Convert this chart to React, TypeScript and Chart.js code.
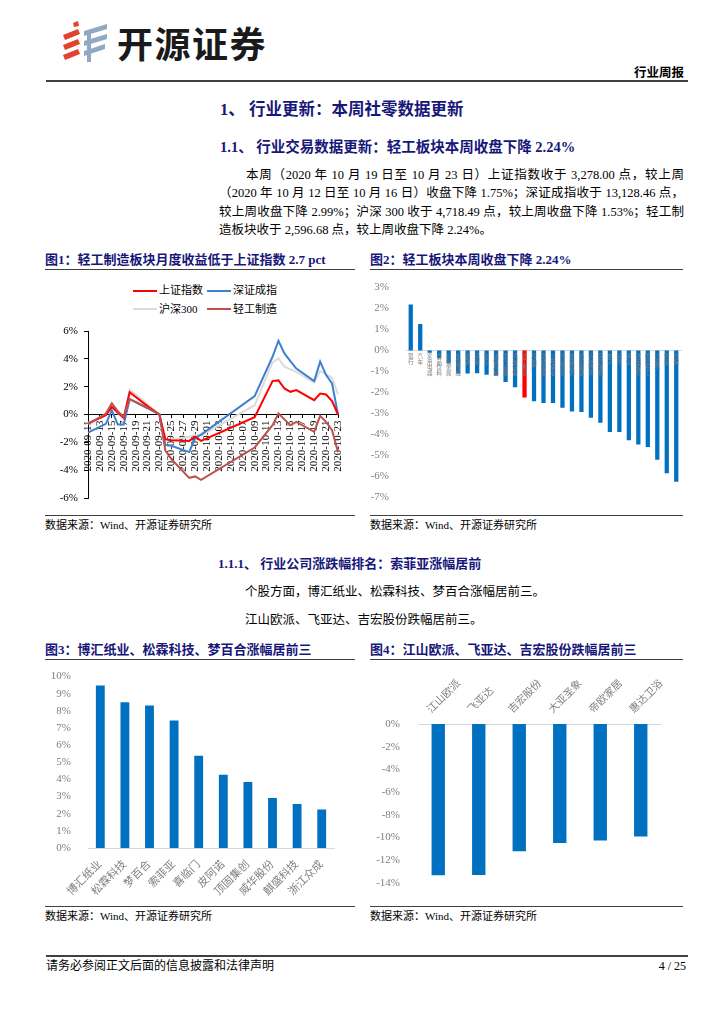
import React, { useEffect, useRef } from 'react';
import { Chart, registerables } from 'chart.js';

Chart.register(...registerables);

const SERIF = "'Liberation Serif', 'Noto Sans CJK SC', serif";
Chart.defaults.font.family = SERIF;

// ---------- Chart 1 data ----------
const dates = [
  '2020-09-11', '2020-09-12', '2020-09-13', '2020-09-14', '2020-09-15', '2020-09-16', '2020-09-17',
  '2020-09-18', '2020-09-19', '2020-09-20', '2020-09-21', '2020-09-22', '2020-09-23', '2020-09-24',
  '2020-09-25', '2020-09-26', '2020-09-27', '2020-09-28', '2020-09-29', '2020-09-30', '2020-10-01',
  '2020-10-02', '2020-10-03', '2020-10-04', '2020-10-05', '2020-10-06', '2020-10-07', '2020-10-08',
  '2020-10-09', '2020-10-10', '2020-10-11', '2020-10-12', '2020-10-13', '2020-10-14', '2020-10-15',
  '2020-10-16', '2020-10-17', '2020-10-18', '2020-10-19', '2020-10-20', '2020-10-21', '2020-10-22',
  '2020-10-23',
];
const n = null;
const shIndex = [-0.65, n, n, -0.05, 0.55, 0.15, -0.25, 1.6, n, n, 0.6, 0.3, 0, -1.77, -1.85, n, n, -1.9, -1.6, -1.9,
  n, n, n, n, n, n, n, n, -0.2, n, n, 2.4, 2.45, 1.87, 1.63, 1.75, n, n, 1.03, 1.5, 1.44, 0.96, 0];
const szIndex = [-1.3, n, n, -0.67, 0.31, -0.72, -0.72, 1.1, n, n, 0.45, 0.22, 0, -2.2, -2.25, n, n, -2.7, -1.7, -1.45,
  n, n, n, n, n, n, n, n, 1.32, n, n, 4.15, 5.3, 4.39, 3.84, 3.3, n, n, 2.4, 3.8, 2.83, 2.23, 0];
const hs300 = [-0.6, n, n, 0, 0.5, 0.1, -0.2, 1.8, n, n, 0.75, 0.35, 0, -1.9, -1.8, n, n, -1.6, -1.45, -1.5,
  n, n, n, n, n, n, n, n, 0.67, n, n, 3.74, 4.03, 3.43, 3.24, 3.07, n, n, 2.3, 3.12, 2.88, 2.64, 1.44];
const lightMfg = [-0.7, n, n, 0.07, 0.8, 0.24, -0.17, 1.1, n, n, 0.5, 0.25, 0, -2.6, -3.2, n, n, -4.55, -4.45, -4.7,
  n, n, n, n, n, n, n, n, -2.37, n, n, -0.77, 0.07, -0.35, -0.77, -0.53, n, n, -1.25, -0.1, -0.53, -1.13, -2.7];

// ---------- Chart 2 data ----------
const industries = ['银行', '汽车', '家用电器', '食品饮料', '有色金属', '非银金融', '钢铁', '采掘', '化工', '建筑材料',
  '电气设备', '机械设备', '轻工制造', '房地产', '交通运输', '公用事业', '商业贸易', '建筑装饰', '纺织服装', '农林牧渔',
  '医药生物', '电子', '综合', '通信', '休闲服务', '国防军工', '计算机', '传媒', '环保'];
const industryChange = [2.19, 1.26, -0.1, -0.37, -0.62, -1.1, -1.1, -1.08, -1.15, -1.2, -1.5, -1.75, -2.24, -2.42,
  -2.5, -2.5, -2.73, -2.9, -2.93, -3.2, -3.44, -3.88, -3.88, -4.28, -4.48, -4.6, -5.2, -5.85, -6.25];
const highlightIndustry = '轻工制造';

// ---------- Chart 3 data ----------
const gainers = ['博汇纸业', '松霖科技', '梦百合', '索菲亚', '喜临门', '皮阿诺', '顶固集创', '威华股份', '麒盛科技', '浙江众成'];
const gainerChange = [9.48, 8.5, 8.31, 7.44, 5.38, 4.27, 3.85, 2.92, 2.56, 2.25];

// ---------- Chart 4 data ----------
const losers = ['江山欧派', '飞亚达', '吉宏股份', '大亚圣象', '帝欧家居', '惠达卫浴'];
const loserChange = [-13.32, -13.3, -11.2, -10.47, -10.26, -9.91];

const NAVY = '#17177a';
const TICK_GRAY = '#808080';
const BAR_BLUE = '#0070c0';

function ChartBox({ left, top, width, height, makeConfig }: any) {
  const ref = useRef<HTMLCanvasElement>(null);
  useEffect(() => {
    const chart = new Chart(ref.current as HTMLCanvasElement, makeConfig());
    return () => chart.destroy();
  }, []);
  return (
    <canvas
      ref={ref}
      width={width}
      height={height}
      style={{ position: 'absolute', left, top, width, height }}
    />
  );
}

function Txt({ x, y, size, children, bold = false, color = '#000', w, justify = false, right = false, font = SERIF, ls }: any) {
  const h = Math.round(size * 1.5);
  const style: any = {
    position: 'absolute',
    top: y - h / 2,
    height: h,
    lineHeight: h + 'px',
    fontSize: size,
    fontWeight: bold ? 700 : 400,
    color,
    fontFamily: font,
  };
  if (right) {
    style.right = 724 - x;
    style.whiteSpace = 'nowrap';
  } else {
    style.left = x;
  }
  if (w) style.width = w;
  if (justify) {
    style.textAlign = 'justify';
    style.textAlignLast = 'justify';
  } else {
    style.whiteSpace = 'nowrap';
  }
  if (ls) style.letterSpacing = ls;
  return <div style={style}>{children}</div>;
}

function HLine({ x1, x2, y, t = 1.5, color = '#404040' }: any) {
  return <div style={{ position: 'absolute', left: x1, top: y - t / 2, width: x2 - x1, height: t, background: color }} />;
}

function Logo() {
  const red = '#e2432f';
  const blue = '#8ea9c1';
  return (
    <svg style={{ position: 'absolute', left: 60, top: 20 }} width={50} height={44} viewBox="0 0 50 44">
      <polygon points="13,3 18,1 19,6 14,7" fill={red} />
      <polygon points="3,15 18,9 20,14 5,20" fill={red} />
      <polygon points="3,25 18,19 20,24 5,30" fill={red} />
      <polygon points="3,35 18,29 20,34 5,40" fill={red} />
      <polygon points="24,11 47,4 47,9 24,16" fill={blue} />
      <polygon points="24,21 47,14 47,19 24,26" fill={blue} />
      <polygon points="24,31 45,24 45,29 24,36" fill={blue} />
      <rect x={27} y={11} width={4} height={31} fill={blue} />
    </svg>
  );
}

function config1() {
  return {
    type: 'line',
    data: {
      labels: dates,
      datasets: [
        { label: '轻工制造', data: lightMfg, borderColor: '#c0504d', borderWidth: 2 },
        { label: '上证指数', data: shIndex, borderColor: '#ff0000', borderWidth: 2 },
        { label: '深证成指', data: szIndex, borderColor: '#3d7fd0', borderWidth: 2 },
        { label: '沪深300', data: hs300, borderColor: '#dcdcdc', borderWidth: 2 },
      ],
    },
    options: {
      animation: false,
      responsive: false,
      spanGaps: true,
      elements: { point: { radius: 0 }, line: { tension: 0 } },
      layout: { padding: { left: 0, top: 59, right: 17, bottom: 14 } },
      plugins: { legend: { display: false }, tooltip: { enabled: false } },
      scales: {
        x: {
          position: { y: 0 },
          offset: false,
          grid: { display: true, drawOnChartArea: false, drawTicks: true, tickLength: 3, color: '#000' },
          border: { color: '#000', width: 1 },
          ticks: {
            autoSkip: false,
            maxRotation: 90,
            minRotation: 90,
            padding: 3,
            color: '#000',
            font: { size: 11, family: SERIF },
            callback: (_v: any, i: number) => (i % 2 === 0 ? dates[i] : null),
          },
          afterFit: (a: any) => { a.height = 0; },
        },
        y: {
          min: -6,
          max: 6,
          ticks: { stepSize: 2, callback: (v: any) => v + '%', color: '#000', font: { size: 11, family: SERIF }, padding: 6 },
          grid: { drawOnChartArea: false, drawTicks: true, tickLength: 4, color: '#000' },
          border: { color: '#000', width: 1 },
          afterFit: (a: any) => { a.width = 43; },
        },
      },
    },
  };
}

function config2() {
  return {
    type: 'bar',
    data: {
      labels: industries.map((s) => s.split('')),
      datasets: [
        {
          data: industryChange,
          backgroundColor: industries.map((s) => (s === highlightIndustry ? '#ff0000' : BAR_BLUE)),
          barPercentage: 0.45,
          categoryPercentage: 1,
        },
      ],
    },
    options: {
      animation: false,
      responsive: false,
      layout: { padding: { left: 0, top: 12, right: 2, bottom: 11 } },
      plugins: { legend: { display: false }, tooltip: { enabled: false } },
      scales: {
        x: {
          position: { y: 0 },
          grid: { display: false, drawTicks: false },
          border: { color: '#d9d9d9', width: 1 },
          ticks: {
            autoSkip: false,
            maxRotation: 0,
            minRotation: 0,
            color: TICK_GRAY,
            font: { size: 5.5, lineHeight: 1.05, family: SERIF },
            padding: 3,
            z: 1,
          },
          afterFit: (a: any) => { a.height = 0; },
        },
        y: {
          min: -7,
          max: 3,
          ticks: { stepSize: 1, callback: (v: any) => v + '%', color: TICK_GRAY, font: { size: 11, family: SERIF }, padding: 9 },
          grid: { display: false },
          border: { display: false },
          afterFit: (a: any) => { a.width = 36; },
        },
      },
    },
  };
}

function config3() {
  return {
    type: 'bar',
    data: {
      labels: gainers,
      datasets: [{ data: gainerChange, backgroundColor: BAR_BLUE, barPercentage: 0.36, categoryPercentage: 1 }],
    },
    options: {
      animation: false,
      responsive: false,
      layout: { padding: { left: 0, top: 14, right: 21, bottom: 0 } },
      plugins: { legend: { display: false }, tooltip: { enabled: false } },
      scales: {
        x: {
          grid: { display: false },
          border: { color: '#d9d9d9', width: 1 },
          ticks: {
            autoSkip: false,
            maxRotation: 45,
            minRotation: 45,
            color: TICK_GRAY,
            font: { size: 11, family: SERIF },
            padding: 2,
          },
          afterFit: (a: any) => { a.height = 56; },
        },
        y: {
          min: 0,
          max: 10,
          ticks: { stepSize: 1, callback: (v: any) => v + '%', color: TICK_GRAY, font: { size: 11, family: SERIF }, padding: 9 },
          grid: { display: false },
          border: { display: false },
          afterFit: (a: any) => { a.width = 43; },
        },
      },
    },
  };
}

function config4() {
  return {
    type: 'bar',
    data: {
      labels: losers,
      datasets: [{ data: loserChange, backgroundColor: BAR_BLUE, barPercentage: 0.33, categoryPercentage: 1 }],
    },
    options: {
      animation: false,
      responsive: false,
      layout: { padding: { left: 0, top: 0, right: 22, bottom: 21 } },
      plugins: { legend: { display: false }, tooltip: { enabled: false } },
      scales: {
        x: {
          position: 'top',
          grid: { display: false, drawTicks: false },
          border: { color: '#d9d9d9', width: 1 },
          ticks: {
            autoSkip: false,
            maxRotation: 45,
            minRotation: 45,
            color: TICK_GRAY,
            font: { size: 10.5, family: SERIF },
            padding: 8,
          },
          afterFit: (a: any) => { a.height = 63; },
        },
        y: {
          min: -14,
          max: 0,
          ticks: { stepSize: 2, callback: (v: any) => v + '%', color: TICK_GRAY, font: { size: 11, family: SERIF }, padding: 10 },
          grid: { display: false },
          border: { display: false },
          afterFit: (a: any) => { a.width = 48; },
        },
      },
    },
  };
}

function LegendItem({ x, y, color, label }: any) {
  return (
    <>
      <div style={{ position: 'absolute', left: x, top: y - 1, width: 24, height: 2, background: color }} />
      <Txt x={x + 26} y={y} size={11}>{label}</Txt>
    </>
  );
}

export default function App() {
  return (
    <div style={{ position: 'absolute', left: 0, top: 0, width: 724, height: 1024, background: '#fff', fontFamily: SERIF, overflow: 'hidden' }}>
      {/* header */}
      <Logo />
      <Txt x={117} y={42} size={36} bold font="'Noto Sans CJK SC', sans-serif" color="#1a1a1a" ls="1.5px">开源证券</Txt>
      <Txt x={684} y={73} size={12.5} bold right>行业周报</Txt>
      <HLine x1={46} x2={688} y={80.5} t={2} />

      {/* section text */}
      <Txt x={220} y={109} size={16.5} bold color={NAVY}>1、 行业更新：本周社零数据更新</Txt>
      <Txt x={220} y={147} size={14.5} bold color={NAVY}>1.1、 行业交易数据更新：轻工板块本周收盘下降 2.24%</Txt>
      <Txt x={246} y={175} size={12.5} w={438} justify>本周（2020 年 10 月 19 日至 10 月 23 日）上证指数收于 3,278.00 点，较上周</Txt>
      <Txt x={219} y={193.5} size={12.5} w={465} justify>（2020 年 10 月 12 日至 10 月 16 日）收盘下降 1.75%；深证成指收于 13,128.46 点，</Txt>
      <Txt x={219} y={212} size={12.5} w={465} justify>较上周收盘下降 2.99%；沪深 300 收于 4,718.49 点，较上周收盘下降 1.53%；轻工制</Txt>
      <Txt x={219} y={230.5} size={12.5}>造板块收于 2,596.68 点，较上周收盘下降 2.24%。</Txt>

      {/* figure 1 & 2 frames */}
      <Txt x={45} y={260} size={13} bold color={NAVY}>图1：轻工制造板块月度收益低于上证指数 2.7 pct</Txt>
      <Txt x={370} y={260} size={13} bold color={NAVY}>图2：轻工板块本周收盘下降 2.24%</Txt>
      <HLine x1={45} x2={355} y={269.5} />
      <HLine x1={370} x2={683} y={269.5} />
      <HLine x1={45} x2={355} y={515.5} />
      <HLine x1={370} x2={683} y={515.5} />
      <Txt x={45} y={525} size={11}>数据来源：Wind、开源证券研究所</Txt>
      <Txt x={370} y={525} size={11}>数据来源：Wind、开源证券研究所</Txt>

      <LegendItem x={133} y={290.7} color="#ff0000" label="上证指数" />
      <LegendItem x={207} y={290.7} color="#3d7fd0" label="深证成指" />
      <LegendItem x={133} y={309.3} color="#dcdcdc" label="沪深300" />
      <LegendItem x={207} y={309.3} color="#c0504d" label="轻工制造" />

      <ChartBox left={45} top={272} width={310} height={240} makeConfig={config1} />
      <ChartBox left={370} top={272} width={313} height={241} makeConfig={config2} />

      {/* section 1.1.1 */}
      <Txt x={218} y={563.5} size={13} bold color={NAVY}>1.1.1、 行业公司涨跌幅排名：索菲亚涨幅居前</Txt>
      <Txt x={245} y={592} size={12.5}>个股方面，博汇纸业、松霖科技、梦百合涨幅居前三。</Txt>
      <Txt x={245} y={620} size={12.5}>江山欧派、飞亚达、吉宏股份跌幅居前三。</Txt>

      {/* figure 3 & 4 frames */}
      <Txt x={45} y={650} size={13} bold color={NAVY}>图3：博汇纸业、松霖科技、梦百合涨幅居前三</Txt>
      <Txt x={370} y={650} size={13} bold color={NAVY}>图4：江山欧派、飞亚达、吉宏股份跌幅居前三</Txt>
      <HLine x1={45} x2={355} y={659.5} />
      <HLine x1={370} x2={683} y={659.5} />
      <HLine x1={45} x2={355} y={906.5} />
      <HLine x1={370} x2={683} y={906.5} />
      <Txt x={45} y={916.5} size={11}>数据来源：Wind、开源证券研究所</Txt>
      <Txt x={370} y={916.5} size={11}>数据来源：Wind、开源证券研究所</Txt>

      <ChartBox left={45} top={661} width={310} height={243} makeConfig={config3} />
      <ChartBox left={370} top={661} width={313} height={243} makeConfig={config4} />

      {/* footer */}
      <HLine x1={46} x2={688} y={955.5} t={2} />
      <Txt x={46} y={966} size={12}>请务必参阅正文后面的信息披露和法律声明</Txt>
      <Txt x={686} y={966} size={12} right>4 / 25</Txt>
    </div>
  );
}
